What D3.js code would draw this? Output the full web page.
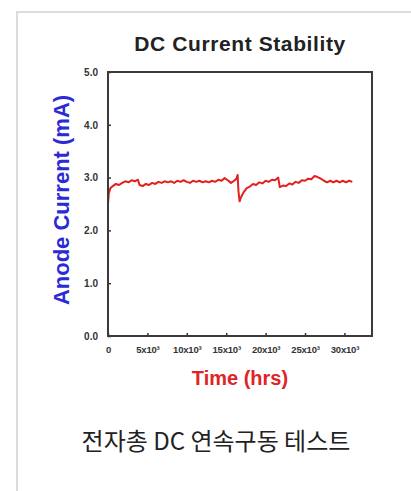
<!DOCTYPE html>
<html>
<head>
<meta charset="utf-8">
<script src="https://cdn.jsdelivr.net/npm/d3@7"></script>
<style>
  html, body { margin: 0; padding: 0; background: #fff; overflow: hidden; }
  svg { display: block; }
</style>
</head>
<body>
<svg id="chart" width="411" height="491"></svg>
<script>
// Measured run: elapsed time (thousand hours) and anode current (mA)
const timeK = [0, 0.1, 0.3, 0.6, 1.0, 1.4, 1.8, 2.2, 2.6, 3.0, 3.4, 3.8, 4.0, 4.4, 4.8, 5.2, 5.6, 6.0, 6.4, 6.8,
  7.2, 7.6, 8.0, 8.4, 8.8, 9.2, 9.6, 10.0, 10.4, 10.8, 11.2, 11.6, 12.0, 12.4, 12.8, 13.2, 13.6, 14.0, 14.4, 14.8,
  15.2, 15.6, 16.0, 16.3, 16.45, 16.55, 16.7, 16.85, 17.2, 17.6, 18.0, 18.4, 18.8, 19.2, 19.6, 20.0, 20.4, 20.8,
  21.2, 21.6, 21.8, 22.2, 22.6, 23.0, 23.4, 23.8, 24.2, 24.6, 25.0, 25.4, 25.8, 26.2, 26.6, 27.0, 27.4, 27.8,
  28.2, 28.6, 29.0, 29.4, 29.8, 30.2, 30.6, 31.0];
const currentMA = [2.50, 2.70, 2.80, 2.84, 2.88, 2.86, 2.90, 2.93, 2.91, 2.95, 2.93, 2.96, 2.86, 2.84, 2.88, 2.86, 2.90, 2.88, 2.92, 2.90,
  2.93, 2.91, 2.93, 2.90, 2.94, 2.92, 2.95, 2.92, 2.90, 2.94, 2.92, 2.94, 2.91, 2.93, 2.91, 2.94, 2.92, 2.96, 2.94, 2.99,
  2.95, 2.90, 2.94, 2.98, 3.05, 2.75, 2.55, 2.62, 2.72, 2.80, 2.83, 2.88, 2.86, 2.91, 2.89, 2.94, 2.92, 2.96,
  2.95, 3.00, 2.82, 2.85, 2.84, 2.89, 2.87, 2.92, 2.90, 2.95, 2.94, 2.98, 2.97, 3.03, 3.01, 2.98, 2.94, 2.91,
  2.94, 2.91, 2.94, 2.91, 2.94, 2.91, 2.94, 2.92];

const yTicks = [0, 1, 2, 3, 4, 5];
const xTicks = [0, 5, 10, 15, 20, 25, 30];
const xTickLabels = ["0", "5x10³", "10x10³", "15x10³", "20x10³", "25x10³", "30x10³"];

const title = "DC Current Stability";
const xTitle = "Time (hrs)";
const yTitle = "Anode Current (mA)";
const caption = "전자총 DC 연속구동 테스트";

const svg = d3.select("#chart");

// card outline: only its left and top edges fall inside the view
svg.append("path")
  .attr("d", "M17,491V12H411")
  .attr("fill", "none")
  .attr("stroke", "#dcdcdc")
  .attr("stroke-width", 2);

const plot = { left: 108, top: 72, right: 372, bottom: 336 };

const x = d3.scaleLinear().domain([0, 33.5]).range([plot.left, plot.right]);
const y = d3.scaleLinear().domain([0, 5]).range([plot.bottom, plot.top]);

const labelFont = "'Liberation Sans', Arial, sans-serif";

// y axis ticks + labels
const yAxis = d3.axisLeft(y).tickValues(yTicks).tickFormat(d3.format(".1f")).tickSizeInner(-3).tickSizeOuter(0).tickPadding(10);
const gy = svg.append("g").attr("transform", `translate(${plot.left},0)`).call(yAxis);
gy.select(".domain").remove();
gy.selectAll(".tick line").attr("stroke", "#333").attr("stroke-width", 1.5);
gy.selectAll(".tick text")
  .attr("font-family", labelFont).attr("font-weight", "bold")
  .attr("font-size", 10).attr("fill", "#333");

// x axis ticks + labels
const xAxis = d3.axisBottom(x).tickValues(xTicks).tickFormat((d, i) => xTickLabels[i]).tickSizeInner(-3).tickSizeOuter(0).tickPadding(10);
const gx = svg.append("g").attr("transform", `translate(0,${plot.bottom})`).call(xAxis);
gx.select(".domain").remove();
gx.selectAll(".tick line").attr("stroke", "#333").attr("stroke-width", 1.5);
gx.selectAll(".tick text")
  .attr("font-family", labelFont).attr("font-weight", "bold")
  .attr("font-size", 9.5).attr("letter-spacing", -0.2).attr("fill", "#333");

// data line
const data = timeK.map((t, i) => ({ t, v: currentMA[i] }));
svg.append("path")
  .datum(data)
  .attr("fill", "none")
  .attr("stroke", "#e3201d")
  .attr("stroke-width", 2)
  .attr("stroke-linejoin", "round")
  .attr("d", d3.line().x(d => x(d.t)).y(d => y(d.v)));

// plot frame
svg.append("rect")
  .attr("x", plot.left).attr("y", plot.top)
  .attr("width", plot.right - plot.left).attr("height", plot.bottom - plot.top)
  .attr("fill", "none").attr("stroke", "#3a3a3a").attr("stroke-width", 2);

// titles
svg.append("text")
  .attr("x", 240).attr("y", 51)
  .attr("text-anchor", "middle")
  .attr("font-family", labelFont).attr("font-weight", "bold")
  .attr("font-size", 21).attr("letter-spacing", 0.6).attr("fill", "#222")
  .text(title);

svg.append("text")
  .attr("x", 240).attr("y", 385)
  .attr("text-anchor", "middle")
  .attr("font-family", labelFont).attr("font-weight", "bold")
  .attr("font-size", 20).attr("fill", "#e02424")
  .text(xTitle);

svg.append("text")
  .attr("transform", `translate(69,200) rotate(-90)`)
  .attr("text-anchor", "middle")
  .attr("font-family", labelFont).attr("font-weight", "bold")
  .attr("font-size", 22).attr("fill", "#2b2bd6")
  .text(yTitle);

svg.append("text")
  .attr("x", 216).attr("y", 450)
  .attr("text-anchor", "middle")
  .attr("font-family", "'Noto Sans CJK KR', 'Noto Sans', sans-serif")
  .attr("font-size", 24).attr("fill", "#222")
  .text(caption);
</script>
</body>
</html>
